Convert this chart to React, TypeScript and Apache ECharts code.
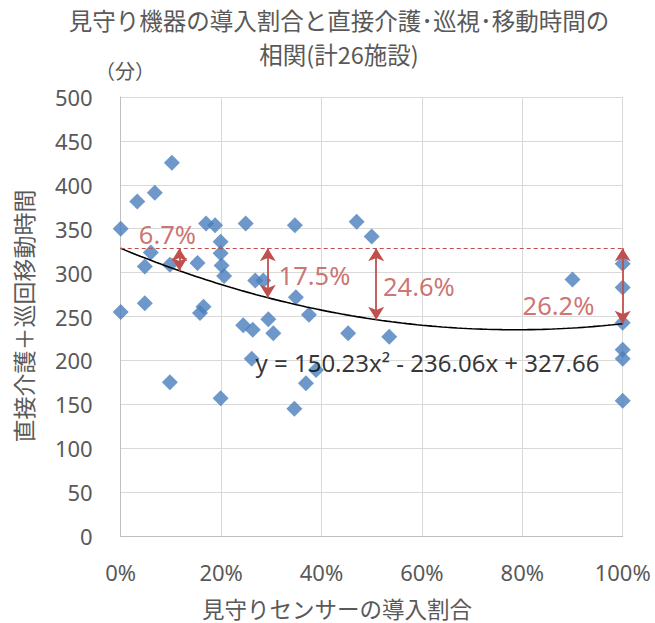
import React, { useEffect, useRef } from "react";
import * as echarts from "echarts";

// Sensor introduction ratio (fraction) and minutes of direct care + patrol/movement
const SENSOR_RATIO = [
  0, 0, 0.033, 0.068, 0.102, 0.06, 0.048, 0.048, 0.098, 0.098,
  0.153, 0.165, 0.158, 0.17, 0.188, 0.199, 0.199, 0.201, 0.206, 0.199,
  0.249, 0.268, 0.284, 0.244, 0.263, 0.294, 0.304, 0.261, 0.347, 0.47,
  0.5, 0.349, 0.375, 0.453, 0.535, 0.389, 0.369, 0.346, 0.9,
  1, 1, 1, 1, 1, 1,
];
const CARE_MINUTES = [
  350, 255, 381, 391, 425, 323, 307, 265, 309, 175,
  311, 261, 254, 356, 354, 335, 322, 308, 296, 157,
  356, 291, 291, 240, 235, 247, 231, 202, 354, 358,
  341, 272, 252, 231, 227, 189, 174, 145, 292,
  310, 283, 243, 212, 202, 154,
];

// Displayed quadratic trendline: y = a x^2 + b x + c
const TREND_COEFFS = [150.23, -236.06, 327.66];
const EQUATION_TEXT = "y = 150.23x² - 236.06x + 327.66";

// Reduction arrows (x position) and their labels
const ARROW_X = [0.117, 0.293, 0.509, 1.0];
const REDUCTION_LABELS = ["6.7%", "17.5%", "24.6%", "26.2%"];

const TITLE_LINE1 = "見守り機器の導入割合と直接介護･巡視･移動時間の";
const TITLE_LINE2 = "相関(計26施設)";
const Y_NAME = "直接介護＋巡回移動時間";
const X_NAME = "見守りセンサーの導入割合";
const Y_UNIT = "（分）";

const trend = (x: number) =>
  TREND_COEFFS[0] * x * x + TREND_COEFFS[1] * x + TREND_COEFFS[2];

export default function App() {
  const ref = useRef<HTMLDivElement>(null);

  useEffect(() => {
    if (!ref.current) return;
    const chart = echarts.init(ref.current, null, { renderer: "svg" });
    const RED = "#C0504D";
    const GREY = "#595959";
    const CJK = "'Noto Sans CJK JP', 'Noto Sans', sans-serif";
    const LAT = "'Noto Sans', 'Noto Sans CJK JP', sans-serif";

    const scatterData = SENSOR_RATIO.map((x, i) => [x, CARE_MINUTES[i]]);
    const trendData: number[][] = [];
    for (let i = 0; i <= 100; i++) {
      const x = i / 100;
      trendData.push([x, trend(x)]);
    }
    const c = TREND_COEFFS[2];

    const markData: any[] = [
      [
        { coord: [0, c], symbol: "none", lineStyle: { type: [4, 3], width: 1.2, color: RED } },
        { coord: [1, c], symbol: "none" },
      ],
      ...ARROW_X.map((x) => [
        { coord: [x, c], lineStyle: { type: "solid", width: 1.8, color: RED } },
        { coord: [x, trend(x)] },
      ]),
    ];

    // label anchors (layout only)
    const labelPos = [
      [0.093, 344],
      [0.386, 297],
      [0.594, 285],
      [0.872, 263],
    ];

    const titleStyle = {
      fontSize: 23.5,
      lineHeight: 34,
      fontWeight: "normal",
      color: GREY,
      fontFamily: CJK,
    };

    chart.setOption({
      animation: false,
      title: {
        text: TITLE_LINE1,
        subtext: TITLE_LINE2,
        left: 339,
        top: 3,
        textAlign: "center",
        itemGap: 0,
        padding: 0,
        textStyle: titleStyle,
        subtextStyle: titleStyle,
      },
      grid: { left: 120.7, right: 32.3, top: 97, bottom: 87, containLabel: false },
      xAxis: {
        type: "value",
        min: 0,
        max: 1,
        interval: 0.2,
        axisLine: { show: true, lineStyle: { color: "#BFBFBF", width: 1 } },
        axisTick: { show: false },
        splitLine: { show: true, lineStyle: { color: "#D9D9D9", width: 1 } },
        axisLabel: {
          fontSize: 22,
          color: GREY,
          fontFamily: LAT,
          margin: 25,
          formatter: (v: number) => Math.round(v * 100) + "%",
        },
      },
      yAxis: {
        type: "value",
        min: 0,
        max: 500,
        interval: 50,
        axisLine: { show: true, lineStyle: { color: "#BFBFBF", width: 1 } },
        axisTick: { show: false },
        splitLine: { show: true, lineStyle: { color: "#D9D9D9", width: 1 } },
        axisLabel: { fontSize: 22, color: GREY, fontFamily: LAT, margin: 28 },
      },
      graphic: [
        {
          type: "text",
          x: 125,
          y: 70,
          style: {
            text: Y_UNIT,
            fontSize: 20,
            fill: GREY,
            fontFamily: CJK,
            align: "center",
            verticalAlign: "middle",
          },
        },
        {
          type: "text",
          x: 23,
          y: 316,
          rotation: Math.PI / 2,
          style: {
            text: Y_NAME,
            fontSize: 23,
            fill: GREY,
            fontFamily: CJK,
            align: "center",
            verticalAlign: "middle",
          },
        },
        {
          type: "text",
          x: 337,
          y: 608,
          style: {
            text: X_NAME,
            fontSize: 22.5,
            fill: GREY,
            fontFamily: CJK,
            align: "center",
            verticalAlign: "middle",
          },
        },
      ],
      series: [
        {
          type: "scatter",
          name: "data",
          data: scatterData,
          symbol: "diamond",
          symbolSize: 16,
          itemStyle: { color: "#4A7EBB" },
          z: 3,
        },
        {
          type: "line",
          name: "trend",
          data: trendData,
          showSymbol: false,
          symbol: "none",
          smooth: false,
          clip: false,
          lineStyle: { color: "#000000", width: 1.6 },
          z: 4,
          silent: true,
          markLine: {
            silent: true,
            symbol: ["arrow", "arrow"],
            symbolSize: [12, 13],
            label: { show: false },
            emphasis: { disabled: true },
            data: markData,
          },
        },
        {
          type: "scatter",
          name: "labels",
          data: REDUCTION_LABELS.map((t, i) => ({ value: labelPos[i], name: t })),
          symbolSize: 1,
          itemStyle: { color: "rgba(0,0,0,0)" },
          silent: true,
          z: 5,
          label: {
            show: true,
            position: "inside",
            formatter: "{b}",
            fontSize: 25.5,
            color: RED,
            fontFamily: LAT,
          },
        },
        {
          type: "scatter",
          name: "equation",
          data: [{ value: [0.611, 198], name: EQUATION_TEXT }],
          symbolSize: 1,
          itemStyle: { color: "rgba(0,0,0,0)" },
          silent: true,
          z: 5,
          label: {
            show: true,
            position: "inside",
            formatter: "{b}",
            fontSize: 24,
            color: "#000000",
            fontFamily: LAT,
          },
        },
      ],
    });

    return () => chart.dispose();
  }, []);

  return <div ref={ref} style={{ width: 655, height: 623, position: "absolute", left: 0, top: 0 }} />;
}
